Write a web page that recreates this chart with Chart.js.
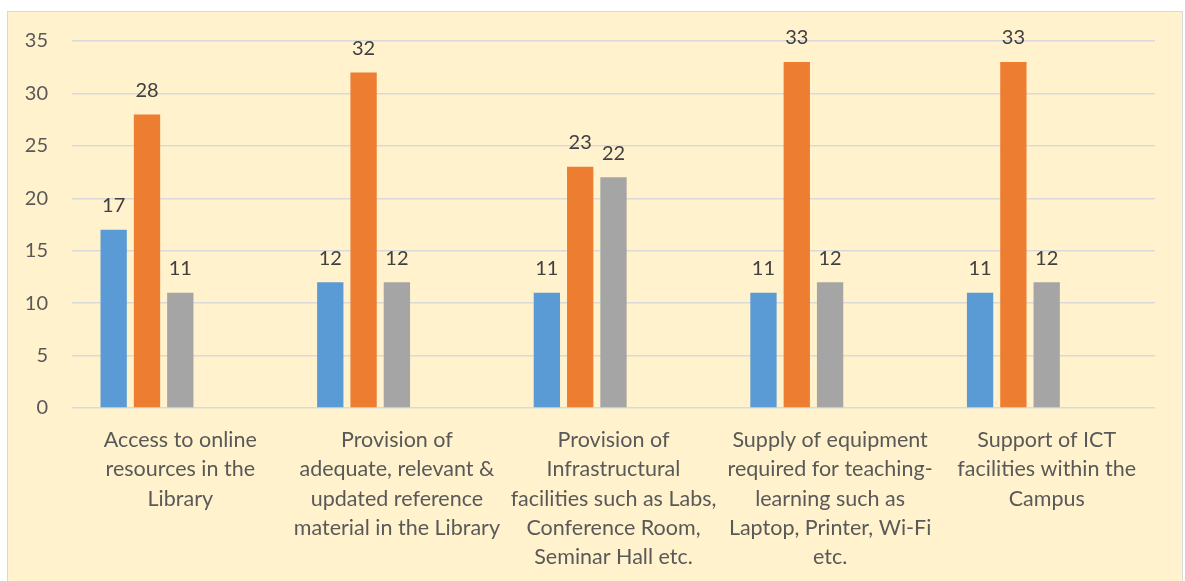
<!DOCTYPE html>
<html>
<head>
<meta charset="utf-8">
<script src="https://cdn.jsdelivr.net/npm/chart.js@4"></script>
<style>
html,body{margin:0;padding:0;background:#fff;}
canvas{display:block;}
</style>
</head>
<body>
<canvas id="c" width="1185" height="581"></canvas>
<script>
const categories = [
  ["Access to online", "resources in the", "Library"],
  ["Provision of", "adequate, relevant &", "updated reference", "material in the Library"],
  ["Provision of", "Infrastructural", "facilities such as Labs,", "Conference Room,", "Seminar Hall etc."],
  ["Supply of equipment", "required for teaching-", "learning such as", "Laptop, Printer, Wi-Fi", "etc."],
  ["Support of ICT", "facilities within the", "Campus"]
];
const series1 = [17, 12, 11, 11, 11];
const series2 = [28, 32, 23, 33, 33];
const series3 = [11, 12, 22, 12, 12];
const yTicks = [0, 5, 10, 15, 20, 25, 30, 35];

const FONT = "Lato, 'Open Sans', sans-serif";

const bgPlugin = {
  id: 'bg',
  beforeDraw(chart) {
    const ctx = chart.ctx;
    ctx.save();
    ctx.fillStyle = '#ffffff';
    ctx.fillRect(0, 0, chart.width, chart.height);
    ctx.fillStyle = '#FFF2CC';
    ctx.fillRect(7.5, 11.5, 1175, 575);
    ctx.strokeStyle = '#D9D9D9';
    ctx.lineWidth = 1;
    ctx.strokeRect(7.5, 11.5, 1175, 575);
    ctx.restore();
  }
};

const labelPlugin = {
  id: 'vals',
  afterDatasetsDraw(chart) {
    const ctx = chart.ctx;
    ctx.save();
    ctx.font = "20px " + FONT;
    ctx.fillStyle = '#404040';
    ctx.textAlign = 'center';
    ctx.textBaseline = 'middle';
    chart.data.datasets.forEach((ds, i) => {
      const meta = chart.getDatasetMeta(i);
      meta.data.forEach((bar, j) => {
        const v = ds.data[j];
        if (v === null || v === undefined) return;
        ctx.fillText(String(v), bar.x, bar.y - 24);
      });
    });
    ctx.restore();
  }
};

new Chart(document.getElementById('c'), {
  type: 'bar',
  data: {
    labels: categories,
    datasets: [
      { data: series1, backgroundColor: '#5B9BD5' },
      { data: series2, backgroundColor: '#ED7D31' },
      { data: series3, backgroundColor: '#A5A5A5' },
      { data: [], backgroundColor: '#FFC000' },
      { data: [], backgroundColor: '#4472C4' }
    ]
  },
  options: {
    responsive: false,
    animation: false,
    devicePixelRatio: 1,
    layout: { padding: { left: 0, right: 30, top: 41, bottom: 0 } },
    datasets: { bar: { categoryPercentage: 0.769, barPercentage: 0.79 } },
    plugins: { legend: { display: false }, tooltip: { enabled: false } },
    scales: {
      x: {
        grid: { display: false },
        border: { display: false },
        ticks: {
          color: '#595959',
          font: { family: FONT, size: 21.5, lineHeight: 1.35 },
          padding: 10,
          maxRotation: 0,
          autoSkip: false
        },
        afterFit(scale) { scale.height = 173; }
      },
      y: {
        min: 0, max: 35,
        afterBuildTicks(scale) { scale.ticks = yTicks.map(v => ({ value: v })); },
        grid: { color: '#D9D9D9', lineWidth: 1.5, drawTicks: false },
        border: { display: false },
        ticks: {
          color: '#595959',
          font: { family: FONT, size: 20 },
          padding: 24
        },
        afterFit(scale) { scale.width = 72; }
      }
    }
  },
  plugins: [bgPlugin, labelPlugin]
});
</script>
</body>
</html>
